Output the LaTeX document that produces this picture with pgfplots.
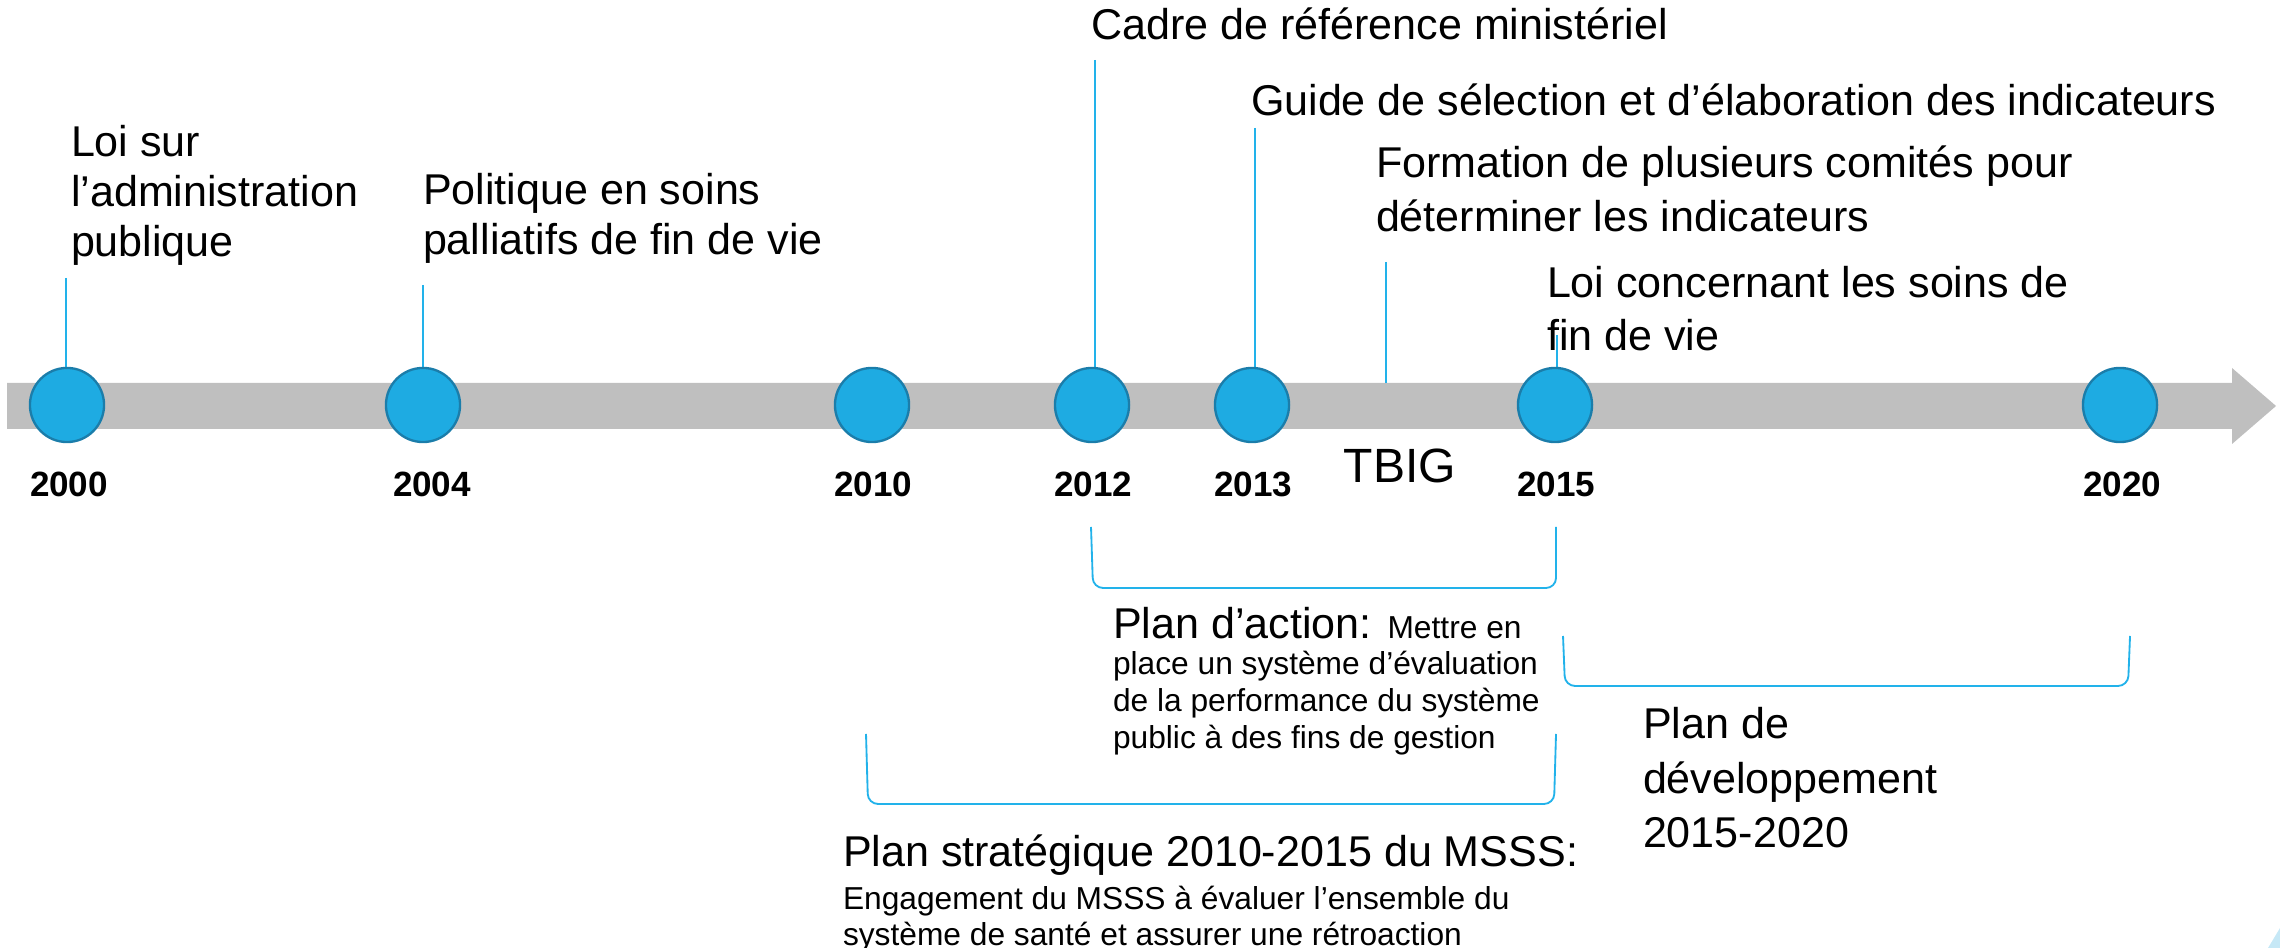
\documentclass[border=0pt]{standalone}
\usepackage{pgfplots}
\pgfplotsset{compat=1.18}
\usepackage{fontspec}
\setmainfont{Liberation Sans}

\definecolor{bargray}{HTML}{BFBFBF}
\definecolor{cfill}{HTML}{1EABE2}
\definecolor{cedge}{HTML}{1B7DAA}
\definecolor{cline}{HTML}{22B2EA}
\definecolor{corner}{HTML}{C6E8F6}

% 1 unit = 1 pixel of the 2280x948 reference
\newcommand\fA{\fontsize{12.9}{15.5}\selectfont}
\newcommand\fT{\fontsize{14.4}{17}\selectfont}
\newcommand\fS{\fontsize{9.5}{11.4}\selectfont}
\newcommand\fY{\fontsize{10.5}{12.5}\selectfont\bfseries}

\tikzset{lab/.style={inner sep=0pt, outer sep=0pt, anchor=base west, font=\fA}}

\begin{document}
\begin{tikzpicture}
\begin{axis}[
    width=24cm, height=9.979cm,
    scale only axis,
    xmin=0, xmax=2280,
    ymin=0, ymax=948,
    y dir=reverse,
    hide axis,
    clip=false,
    conn/.style={color=cline, line width=0.65pt},
    brack/.style={color=cline, line width=0.55pt, rounded corners=3pt},
]

% timeline bar with arrow head
\addplot[fill=bargray, draw=none] coordinates {
    (7,383) (2232,383) (2232,368) (2276,406) (2232,444) (2232,429) (7,429)
} -- cycle;

% connectors
\addplot[conn] coordinates {(66,278) (66,369)};
\addplot[conn] coordinates {(423,285) (423,369)};
\addplot[conn] coordinates {(1095,60) (1095,369)};
\addplot[conn] coordinates {(1255,128) (1255,369)};
\addplot[conn] coordinates {(1386,262) (1386,383)};
\addplot[conn] coordinates {(1557,335) (1557,369)};

% milestones
\addplot[only marks, mark=*, mark size=11.1pt,
    mark options={fill=cfill, draw=cedge, line width=0.7pt}] coordinates {
    (67,405) (423,405) (872,405) (1092,405) (1252,405) (1555,405) (2120,405)
};

% brackets
\addplot[brack] coordinates {(1091,527) (1093,588) (1556,588) (1556,527)};
\addplot[brack] coordinates {(1563,636) (1565,686) (2128,686) (2130,636)};
\addplot[brack] coordinates {(866,734) (868,804) (1554,804) (1556,734)};

% corner decoration
\addplot[fill=corner, draw=none] coordinates {(2268,948) (2280,928) (2280,948)} -- cycle;

% years
\node[lab, anchor=base, font=\fY] at (axis cs:69,497) {2000};
\node[lab, anchor=base, font=\fY] at (axis cs:432,497) {2004};
\node[lab, anchor=base, font=\fY] at (axis cs:873,497) {2010};
\node[lab, anchor=base, font=\fY] at (axis cs:1093,497) {2012};
\node[lab, anchor=base, font=\fY] at (axis cs:1253,497) {2013};
\node[lab, anchor=base, font=\fY] at (axis cs:1556,497) {2015};
\node[lab, anchor=base, font=\fY] at (axis cs:2122,497) {2020};
\node[lab, anchor=base, font=\fT] at (axis cs:1400,483) {TBIG};

% events above
\node[lab] at (axis cs:71,157) {Loi sur};
\node[lab] at (axis cs:71,207) {l’administration};
\node[lab] at (axis cs:71,257) {publique};
\node[lab] at (axis cs:423,205) {Politique en soins};
\node[lab] at (axis cs:423,255) {palliatifs de fin de vie};
\node[lab] at (axis cs:1091,40) {Cadre de référence ministériel};
\node[lab] at (axis cs:1251,116) {Guide de sélection et d’élaboration des indicateurs};
\node[lab] at (axis cs:1376,178) {Formation de plusieurs comités pour};
\node[lab] at (axis cs:1376,232) {déterminer les indicateurs};
\node[lab] at (axis cs:1547,298) {Loi concernant les soins de};
\node[lab] at (axis cs:1547,351) {fin de vie};

% plans below
\node[lab] at (axis cs:1113,639) {Plan d’action: \fS Mettre en};
\node[lab, font=\fS] at (axis cs:1113,675) {place un système d’évaluation};
\node[lab, font=\fS] at (axis cs:1113,712) {de la performance du système};
\node[lab, font=\fS] at (axis cs:1113,749) {public à des fins de gestion};

\node[lab] at (axis cs:1643,739) {Plan de};
\node[lab] at (axis cs:1643,794) {développement};
\node[lab] at (axis cs:1643,848) {2015-2020};

\node[lab] at (axis cs:843,867) {Plan stratégique 2010-2015 du MSSS:};
\node[lab, font=\fS] at (axis cs:843,910) {Engagement du MSSS à évaluer l’ensemble du};
\node[lab, font=\fS] at (axis cs:843,946) {système de santé et assurer une rétroaction};

\coordinate (bbsw) at (axis cs:0,948);
\coordinate (bbne) at (axis cs:2280,0);
\end{axis}
\pgfresetboundingbox
\useasboundingbox (bbsw) rectangle (bbne);
\end{tikzpicture}
\end{document}
